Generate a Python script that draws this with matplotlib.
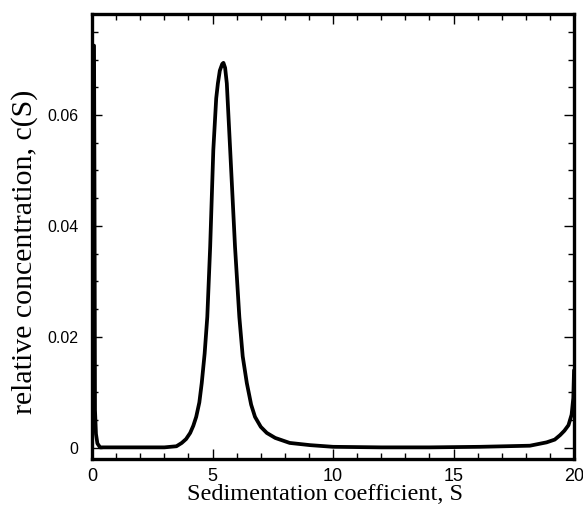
import matplotlib.pyplot as plt
from matplotlib.ticker import MultipleLocator, FuncFormatter

# sedimentation coefficient (S) and c(S)
s_values = [0.06, 0.08, 0.10, 0.12, 0.16, 0.22, 0.33, 0.6, 1.0, 2.0, 3.0, 3.5,
            3.72, 3.9, 4.07, 4.2, 4.32, 4.45, 4.55, 4.67, 4.78, 4.90, 5.03,
            5.15, 5.22, 5.30, 5.40, 5.45, 5.52, 5.59, 5.73, 5.93, 6.11, 6.25,
            6.42, 6.6, 6.76, 7.0, 7.25, 7.6, 8.2, 9.05, 10.0, 12.0, 14.0, 16.1,
            18.17, 18.86, 19.2, 19.42, 19.6, 19.77, 19.9, 19.97, 20.0]
c_values = [0.0725, 0.0725, 0.045, 0.0068, 0.0025, 0.0008, 0.0001, 0.0001,
            0.0001, 0.0001, 0.0001, 0.0003, 0.0009, 0.0016, 0.0027, 0.0040,
            0.0056, 0.0082, 0.0117, 0.0170, 0.0236, 0.0363, 0.0537, 0.0630,
            0.0657, 0.0680, 0.0692, 0.0694, 0.0685, 0.0657, 0.0537, 0.0363,
            0.0236, 0.0165, 0.0117, 0.0078, 0.0056, 0.0038, 0.0027, 0.0018,
            0.0009, 0.0005, 0.0002, 0.0001, 0.0001, 0.0002, 0.0004, 0.0010,
            0.0015, 0.0023, 0.0031, 0.0041, 0.0060, 0.0090, 0.0140]

x_ticks = [0, 5, 10, 15, 20]
y_ticks = [0, 0.02, 0.04, 0.06]

fig = plt.figure(figsize=(5.83, 5.15), dpi=100)
ax = fig.add_axes([0.158, 0.1087, 0.8266, 0.8641])

ax.plot(s_values, c_values, color="black", linewidth=2.7,
        solid_joinstyle="round", solid_capstyle="round")

ax.set_xlim(0, 20)
ax.set_ylim(-0.002, 0.0782)
ax.set_xticks(x_ticks)
ax.set_yticks(y_ticks)
ax.xaxis.set_minor_locator(MultipleLocator(1))
ax.yaxis.set_minor_locator(MultipleLocator(0.005))
ax.yaxis.set_major_formatter(FuncFormatter(lambda v, p: "0" if v == 0 else f"{v:g}"))

# ticks inside on all four sides
ax.tick_params(which="both", direction="in", top=True, right=True, width=1)
ax.tick_params(which="major", length=7)
ax.tick_params(axis="x", which="major", pad=6.5, labelsize=13)
ax.tick_params(axis="y", which="major", pad=10, labelsize=11.5)
ax.tick_params(which="minor", length=4)
for lab in ax.get_xticklabels() + ax.get_yticklabels():
    lab.set_family("Liberation Sans")
for sp in ax.spines.values():
    sp.set_linewidth(2.4)

ax.set_xlabel("Sedimentation coefficient, S", fontsize=17.5, family="Liberation Serif")
ax.set_ylabel("relative concentration, c(S)", fontsize=21.5, family="Liberation Serif")
ax.xaxis.set_label_coords(0.483, -0.057)
ax.yaxis.set_label_coords(-0.141, 0.465)
ax.yaxis.label.set_va("center")

plt.savefig("out.png", dpi=100)
